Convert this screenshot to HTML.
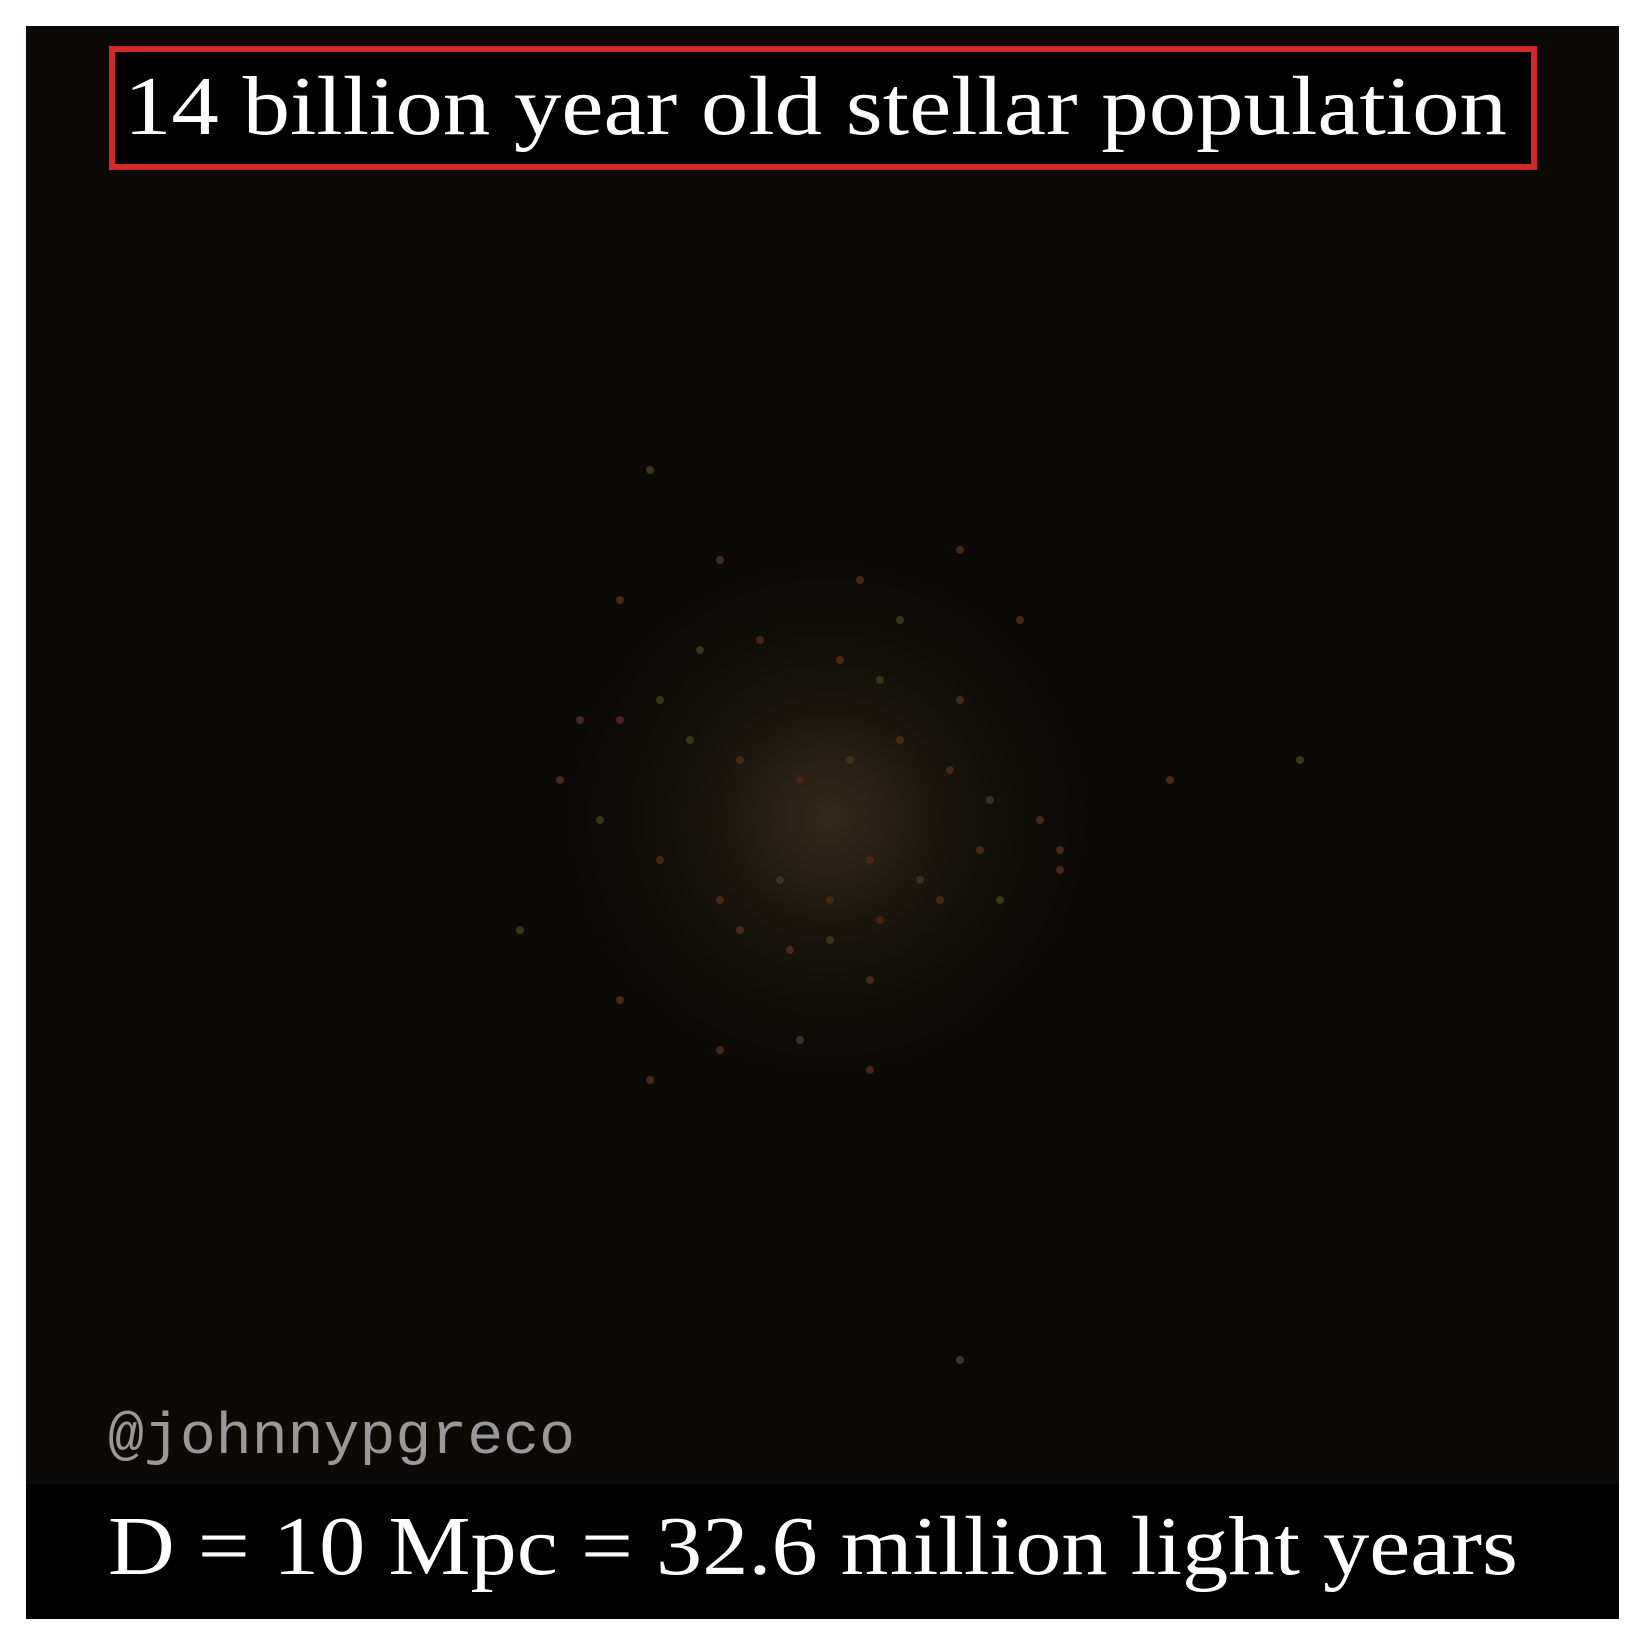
<!DOCTYPE html>
<html><head><meta charset="utf-8"><style>
html,body{margin:0;padding:0;background:#fff;}
body{width:1645px;height:1645px;position:relative;overflow:hidden;}
</style></head><body>
<svg width="1645" height="1645" viewBox="0 0 1645 1645">
<defs>
<radialGradient id="glow" cx="829" cy="818" r="300" gradientUnits="userSpaceOnUse">
<stop offset="0" stop-color="#3a2e1c" stop-opacity="0.9"/>
<stop offset="0.4" stop-color="#1f1a10" stop-opacity="0.7"/>
<stop offset="1" stop-color="#0b0907" stop-opacity="0"/>
</radialGradient>
</defs>
<rect x="26" y="26" width="1593" height="1593" fill="#0c0a07"/>
<rect x="26" y="26" width="1593" height="1458" fill="url(#glow)"/>
<g id="stars"></g>
<rect x="112" y="49" width="1422" height="118" fill="#000" stroke="#d22a2a" stroke-width="6"/>
<text x="124" y="134" font-family="Liberation Serif, serif" font-size="84" fill="#fff" textLength="1383" lengthAdjust="spacingAndGlyphs">14 billion year old stellar population</text>
<text x="108" y="1453" font-family="Liberation Mono, monospace" font-size="58" fill="#999" textLength="467" lengthAdjust="spacingAndGlyphs">@johnnypgreco</text>
<rect x="26" y="1484" width="1593" height="135" fill="#000"/>
<text x="108" y="1574" font-family="Liberation Serif, serif" font-size="84" fill="#fff" textLength="1410" lengthAdjust="spacingAndGlyphs">D = 10 Mpc = 32.6 million light years</text>
</svg>
<script>
const starX=[650,720,860,900,620,1020,700,760,840,880,960,620,690,740,800,850,900,950,990,1040,560,600,660,720,780,830,870,920,980,1060,520,740,790,830,880,940,1000,1060,870,960,650,720,800,870,580,660,620,1170,1300,960];
const starY=[470,560,580,620,600,620,650,640,660,680,700,720,740,760,780,760,740,770,800,820,780,820,860,900,880,900,860,880,850,850,930,930,950,940,920,900,900,870,1070,1360,1080,1050,1040,980,720,700,1000,780,760,550];
const g=document.getElementById('stars');
for(let i=0;i<starX.length;i++){
 const c=document.createElementNS('http://www.w3.org/2000/svg','circle');
 c.setAttribute('cx',starX[i]);c.setAttribute('cy',starY[i]);c.setAttribute('r',4);
 c.setAttribute('fill',i%3?'#4a2614':'#3c3418');
 
 
 g.appendChild(c);
}
</script>
</body></html>
